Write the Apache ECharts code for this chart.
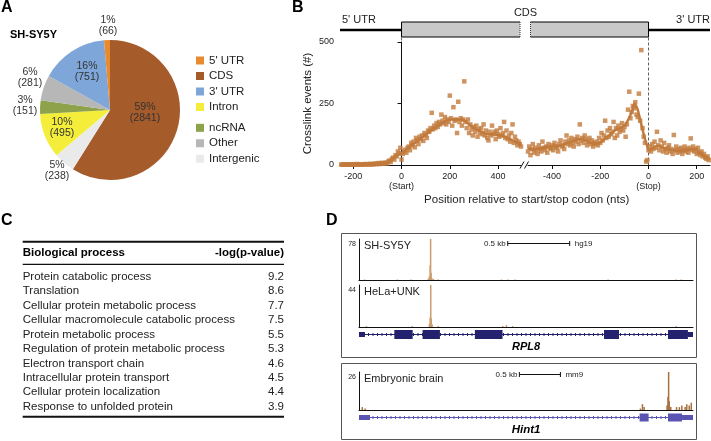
<!DOCTYPE html>
<html>
<head>
<meta charset="utf-8">
<script src="https://cdn.jsdelivr.net/npm/echarts@6.0.0/dist/echarts.min.js"></script>
<style>
html,body{margin:0;padding:0;background:#ffffff;}
#chart{width:711px;height:441px;}
</style>
</head>
<body>
<div id="chart"></div>
<script>
// ================= Panel A : binding-site categories =================
const pieCategories = ["CDS", "Intergenic", "Intron", "ncRNA", "Other", "3' UTR", "5' UTR"];
const pieCounts = [2841, 238, 495, 151, 281, 751, 66];
const piePercents = [59, 5, 10, 3, 6, 16, 1];
const legendGroupOne = ["5' UTR", "CDS", "3' UTR", "Intron"];
const legendGroupTwo = ["ncRNA", "Other", "Intergenic"];

// ================= Panel B : crosslink events =================
const startFirstBin = -250;   // nt, start-codon aligned (5-nt bins)
const stopFirstBin = -500;    // nt, stop-codon aligned (5-nt bins)
const binStep = 5;
const startAlignedCounts = [
  2,1,3,2,1,2,3,1,2,2,
  3,1,2,4,2,3,1,2,3,2,
  4,3,2,3,5,2,3,4,6,3,
  5,8,4,6,9,5,7,10,6,14,
  18,12,25,30,22,40,35,55,48,70,
  22,45,55,62,50,70,75,60,90,80,
  95,72,110,100,85,115,105,120,98,130,
  122,110,140,135,150,212,145,160,150,170,
  155,175,165,205,180,170,195,165,185,175,
  282,190,160,235,180,185,130,257,175,190,
  160,185,340,175,150,185,130,165,145,120,
  155,135,160,115,145,130,150,125,165,120,
  140,110,100,135,120,160,125,135,105,140,
  125,115,150,120,130,175,110,140,105,120,
  95,130,165,90,115,100,80,95,85,75
];
const stopAlignedCounts = [
  55,75,40,65,85,50,70,60,45,80,
  65,55,95,70,60,75,50,85,70,65,
  80,60,90,75,70,55,85,100,75,80,
  65,95,120,85,100,80,110,90,75,105,
  95,115,85,165,100,110,90,120,105,80,
  95,110,85,100,75,90,85,95,80,110,
  90,130,100,120,180,110,140,115,150,125,
  135,175,110,150,120,160,135,145,170,140,
  155,115,165,225,298,190,215,240,230,255,
  205,195,290,180,467,150,115,90,14,20,
  60,75,55,85,65,95,70,135,80,60,
  100,75,55,90,65,50,70,80,55,65,
  45,122,60,75,50,65,55,70,45,60,
  75,55,65,50,70,108,60,75,55,65,
  45,70,50,40,55,35,45,30,25,35,
  20
];
const startTrendPos = [-250,-200,-150,-100,-80,-60,-40,-20,0,20,40,60,80,100,120,140,160,180,200,220,240,260,280,300,320,340,360,380,400,420,440,460,480,495];
const startTrendVal = [2,2,3,4,5,8,22,38,48,62,78,92,108,122,138,152,165,178,185,186,185,180,165,150,140,132,125,125,122,118,110,100,90,82];
const stopTrendPos = [-500,-480,-460,-440,-420,-400,-380,-360,-340,-320,-300,-280,-260,-240,-220,-200,-180,-160,-140,-120,-100,-85,-70,-58,-45,-30,-15,-8,0,10,20,40,60,80,100,120,140,160,180,200,220,240,255];
const stopTrendVal = [68,62,66,70,74,75,78,80,88,95,102,106,100,90,86,92,108,122,140,150,160,183,215,250,225,165,105,85,62,65,72,78,70,64,60,58,58,60,65,60,45,32,25];
const startTicks = [-200, 0, 200, 400];
const stopTicks = [-400, -200, 0, 200];

// ================= Panel C : GO terms =================
const goProcesses = [
  "Protein catabolic process", "Translation", "Cellular protein metabolic process",
  "Cellular macromolecule catabolic process", "Protein metabolic process",
  "Regulation of protein metabolic process", "Electron transport chain",
  "Intracellular protein transport", "Cellular protein localization",
  "Response to unfolded protein"
];
const goLogP = ["9.2", "8.6", "7.7", "7.5", "5.5", "5.3", "4.6", "4.5", "4.4", "3.9"];

// ================= Panel D : genome browser tracks (bp) =================
const rpl8Span = [0, 2695];
const rpl8Exons = [[0,48,1],[285,433,2],[513,653,2],[935,1158,2],[1977,2098,2],[2493,2654,2],[2654,2695,1]];
const hint1Span = [0, 4071];
const hint1Exons = [[0,134,1],[3420,3530,2],[3766,3937,2],[3937,4071,1]];
const shsy5yCoverage = [[45,1],[310,1],[420,1],[560,3],[568,7],[574,28],[578,78],[582,14],[588,4],[600,2],[640,1],[1150,1],[1200,1],[1260,1],[2010,1],[2560,1],[2600,1]];
const helaCoverage = [[60,1],[430,1],[568,3],[574,10],[579,44],[583,9],[590,3],[640,1],[1160,1],[1190,2],[1240,1],[2560,1]];
const brainCoverage = [[40,2],[75,1],[3430,1],[3455,4],[3475,2],[3755,3],[3766,9],[3774,26],[3781,6],[3800,2],[3870,2],[3905,2],[3935,3],[3975,2],[3995,4],[4025,3],[4050,5]];
const trackMaxima = [78, 44, 26];
const trackNames = ["SH-SY5Y", "HeLa+UNK", "Embryonic brain"];
const scaleBarStart = [1200, 1955];
const scaleBarLength = 500;

// =====================================================================
const FONT = '"Liberation Sans", Arial, Helvetica, sans-serif';
const pieColors = ['#A65B2B', '#EAEAEA', '#F4EE3A', '#8DA24B', '#B7B7B7', '#7EA6D8', '#E98A2E'];
const pieLabelPos = [[145,113],[57,171],[62,128],[25,106],[30,78],[87,72],[108,26]];
const crossColor = '#C27A3C';

const chart = echarts.init(document.getElementById('chart'), null, {renderer: 'canvas', width: 711, height: 441});

const startPoints = startAlignedCounts.map((v, i) => [startFirstBin + binStep * i, v]);
const stopPoints = stopAlignedCounts.map((v, i) => [stopFirstBin + binStep * i, v]);
const startTrend = startTrendPos.map((p, i) => [p, startTrendVal[i]]);
const stopTrend = stopTrendPos.map((p, i) => [p, stopTrendVal[i]]);

function tickFmt(word) {
  return function (v) { return v === 0 ? '{a|0}\n{b|' + word + '}' : '{a|' + v + '}'; };
}
const tickRich = {a: {fontSize: 9, lineHeight: 11, color: '#222', fontFamily: FONT}, b: {fontSize: 9, lineHeight: 10, color: '#222', fontFamily: FONT}};

function bX(grid, min, max, ticks, word) {
  return {
    gridIndex: grid, type: 'value', min: min, max: max,
    axisLine: {show: true, onZero: false, lineStyle: {color: '#111', width: 1}},
    axisTick: {show: true, length: 4, customValues: ticks, lineStyle: {color: '#111'}},
    axisLabel: {show: true, customValues: ticks, margin: 6, formatter: tickFmt(word), rich: tickRich},
    splitLine: {show: false}
  };
}
function hiddenAxis(grid, min, max) {
  return {gridIndex: grid, type: 'value', min: min, max: max, show: false, splitLine: {show: false}};
}
function trackX(grid, max) {
  return {gridIndex: grid, type: 'value', min: 0, max: max,
    axisLine: {show: true, onZero: false, lineStyle: {color: '#111', width: 1}},
    axisTick: {show: false}, axisLabel: {show: false}, splitLine: {show: false}};
}
function trackY(grid, max) {
  return {gridIndex: grid, type: 'value', min: 0, max: max,
    axisLine: {show: true, onZero: false, lineStyle: {color: '#111', width: 1}},
    axisTick: {show: false}, axisLabel: {show: false}, splitLine: {show: false}};
}
function geneRenderer(color, exonH, utrH) {
  return function (params, api) {
    const a = api.coord([api.value(0), 0.5]);
    const b = api.coord([api.value(1), 0.5]);
    const kind = api.value(2);
    if (kind === 0) {
      return {type: 'group', children: [
        {type: 'line', shape: {x1: a[0], y1: a[1], x2: b[0], y2: b[1]}, style: {stroke: color, lineWidth: 1}},
        {type: 'line', shape: {x1: a[0], y1: a[1], x2: b[0], y2: b[1]}, style: {stroke: color, lineWidth: 3, lineDash: [1, 3.5]}}
      ]};
    }
    const h = kind === 2 ? exonH : utrH;
    return {type: 'rect', shape: {x: a[0], y: a[1] - h / 2, width: b[0] - a[0], height: h}, style: {fill: color}};
  };
}
const legendBase = {
  orient: 'vertical', left: 196, padding: 0, itemWidth: 8, itemHeight: 8, itemGap: 3.5,
  icon: 'rect', selectedMode: false,
  textStyle: {fontSize: 11.5, lineHeight: 11, color: '#222', fontFamily: FONT}
};

const option = {
  animation: false,
  textStyle: {fontFamily: FONT},
  legend: [
    Object.assign({}, legendBase, {data: legendGroupOne, top: 54.5}),
    Object.assign({}, legendBase, {data: legendGroupTwo, top: 121.8})
  ],
  grid: [
    {left: 340, top: 42, width: 181, height: 123},
    {left: 528, top: 42, width: 182, height: 123},
    {left: 359, top: 239, width: 334, height: 41},
    {left: 359, top: 285, width: 334, height: 42},
    {left: 359, top: 329, width: 334, height: 11},
    {left: 359, top: 372, width: 334, height: 38},
    {left: 359, top: 412, width: 334, height: 11}
  ],
  xAxis: [
    bX(0, -255, 495, startTicks, '(Start)'),
    bX(1, -500, 255, stopTicks, '(Stop)'),
    trackX(2, rpl8Span[1]),
    trackX(3, rpl8Span[1]),
    hiddenAxis(4, 0, rpl8Span[1]),
    trackX(5, hint1Span[1]),
    hiddenAxis(6, 0, hint1Span[1])
  ],
  yAxis: [
    {gridIndex: 0, type: 'value', min: 0, max: 500, interval: 250,
      axisLine: {show: true, lineStyle: {color: '#111', width: 1}},
      axisTick: {show: true, length: 4, lineStyle: {color: '#111'}},
      axisLabel: {fontSize: 9, margin: 6, color: '#222', fontFamily: FONT},
      splitLine: {show: false},
      name: 'Crosslink events (#)', nameLocation: 'middle', nameGap: 26,
      nameTextStyle: {fontSize: 11.5, color: '#222', fontFamily: FONT}},
    hiddenAxis(1, 0, 500),
    trackY(2, trackMaxima[0]),
    trackY(3, trackMaxima[1]),
    hiddenAxis(4, 0, 1),
    trackY(5, trackMaxima[2]),
    hiddenAxis(6, 0, 1)
  ],
  series: [
    {
      type: 'pie', center: [110, 110], radius: 70, startAngle: 90, clockwise: true,
      silent: true, emphasis: {disabled: true}, minShowLabelAngle: 0,
      data: pieCategories.map((n, i) => ({name: n, value: pieCounts[i], itemStyle: {color: pieColors[i]}})),
      label: {show: true, position: 'inside', overflow: 'none', color: '#333', fontSize: 10.5, lineHeight: 11, fontFamily: FONT,
        formatter: p => piePercents[p.dataIndex] + '%\n(' + pieCounts[p.dataIndex] + ')'},
      labelLine: {show: false},
      labelLayout: p => ({x: pieLabelPos[p.dataIndex][0], y: pieLabelPos[p.dataIndex][1], align: 'center', verticalAlign: 'middle'})
    },
    {type: 'scatter', xAxisIndex: 0, yAxisIndex: 0, data: startPoints, symbol: 'rect', symbolSize: 4.5, itemStyle: {color: crossColor}, silent: true},
    {type: 'line', xAxisIndex: 0, yAxisIndex: 0, data: startTrend, smooth: 0.25, showSymbol: false, lineStyle: {color: crossColor, width: 2.5}, silent: true},
    {type: 'scatter', xAxisIndex: 1, yAxisIndex: 1, data: stopPoints, symbol: 'rect', symbolSize: 4.5, itemStyle: {color: crossColor}, silent: true},
    {type: 'line', xAxisIndex: 1, yAxisIndex: 1, data: stopTrend, smooth: 0.2, showSymbol: false, lineStyle: {color: crossColor, width: 2.5}, silent: true},
    {type: 'bar', xAxisIndex: 2, yAxisIndex: 2, data: shsy5yCoverage, barWidth: 1.5, itemStyle: {color: '#CF9C6C'}, silent: true},
    {type: 'bar', xAxisIndex: 3, yAxisIndex: 3, data: helaCoverage, barWidth: 1.5, itemStyle: {color: '#CF9C6C'}, silent: true},
    {type: 'custom', xAxisIndex: 4, yAxisIndex: 4, encode: {x: [0, 1]}, silent: true,
      data: [[rpl8Span[0], rpl8Span[1], 0]].concat(rpl8Exons), renderItem: geneRenderer('#24216E', 9, 5)},
    {type: 'bar', xAxisIndex: 5, yAxisIndex: 5, data: brainCoverage, barWidth: 1.5, itemStyle: {color: '#A8703F'}, silent: true},
    {type: 'custom', xAxisIndex: 6, yAxisIndex: 6, encode: {x: [0, 1]}, silent: true,
      data: [[hint1Span[0], hint1Span[1], 0]].concat(hint1Exons), renderItem: geneRenderer('#5A55B3', 8, 5)}
  ]
};
chart.setOption(option);

// ---------- annotations (texts, rules, frames) ----------
const P = (g, v) => chart.convertToPixel({gridIndex: g}, v);
function txt(text, x, y, font, align, extra) {
  return {type: 'text', x: x, y: y, silent: true,
    style: Object.assign({text: text, font: font, fill: '#222', align: align || 'left', verticalAlign: 'middle',
      textAlign: align || 'left', textVerticalAlign: 'middle'}, extra || {})};
}
function ln(x1, y1, x2, y2, w, extra) {
  return {type: 'line', silent: true, shape: {x1: x1, y1: y1, x2: x2, y2: y2},
    style: Object.assign({stroke: '#111', lineWidth: w}, extra || {})};
}
const G = [];
const bold16 = 'bold 16px ' + FONT;
G.push(txt('A', 1, 8, bold16, 'left', {fill: '#000'}));
G.push(txt('B', 292, 8, bold16, 'left', {fill: '#000'}));
G.push(txt('C', 1, 221, bold16, 'left', {fill: '#000'}));
G.push(txt('D', 326, 221, bold16, 'left', {fill: '#000'}));
G.push(txt('SH-SY5Y', 10, 35, 'bold 11px ' + FONT, 'left', {fill: '#000'}));

// Panel B schematic
const xS = P(0, [-255, 0])[0], xE = P(1, [255, 0])[0];
const x0L = P(0, [0, 0])[0], x0R = P(1, [0, 0])[0];
const xBrL = P(0, [495, 0])[0], xBrR = P(1, [-500, 0])[0];
const yAx = P(0, [0, 0])[1];
G.push(ln(xS, 30, xE, 30, 2.5, {stroke: '#000'}));
G.push({type: 'rect', silent: true, shape: {x: x0L, y: 22, width: x0R - x0L, height: 15}, style: {fill: '#C9C9C9', stroke: '#000', lineWidth: 1}});
G.push({type: 'rect', silent: true, shape: {x: xBrL - 1, y: 20, width: xBrR - xBrL + 3.5, height: 19}, style: {fill: '#fff'}});
G.push(ln(xBrL - 1, 22, xBrL - 1, 37, 1, {stroke: '#333', lineDash: [1, 1]}));
G.push(ln(xBrR + 2.5, 22, xBrR + 2.5, 37, 1, {stroke: '#333', lineDash: [1, 1]}));
G.push(txt("5' UTR", 342, 20, '11px ' + FONT));
G.push(txt("3' UTR", 710, 20, '11px ' + FONT, 'right'));
G.push(txt('CDS', (xBrL + xBrR) / 2 + 1, 12.5, '11px ' + FONT, 'center'));
G.push(ln(x0L, 37.5, x0L, yAx, 0.8, {stroke: '#333', lineDash: [3, 2]}));
G.push(ln(x0R, 37.5, x0R, yAx, 0.8, {stroke: '#333', lineDash: [3, 2]}));
G.push(ln(xBrL - 1, yAx + 3.5, xBrL + 3, yAx - 3.5, 1));
G.push(ln(xBrL + 3.5, yAx + 3.5, xBrL + 7.5, yAx - 3.5, 1));
G.push(txt('Position relative to start/stop codon (nts)', 526.7, 200, '11.5px ' + FONT, 'center'));

// Panel C table
const tL = 22.7, tR = 284;
G.push(ln(tL, 241.7, tR, 241.7, 2));
G.push(ln(tL, 264.3, tR, 264.3, 1.2));
G.push(ln(tL, 416.7, tR, 416.7, 2));
G.push(txt('Biological process', tL, 253.3, 'bold 11.5px ' + FONT, 'left', {fill: '#000'}));
G.push(txt('-log(p-value)', tR, 253.3, 'bold 11.5px ' + FONT, 'right', {fill: '#000'}));
goProcesses.forEach((name, i) => {
  const y = 276.7 + 14.45 * i;
  G.push(txt(name, tL, y, '11.5px ' + FONT));
  G.push(txt(goLogP[i], tR, y, '11.5px ' + FONT, 'right'));
});

// Panel D frames and labels
G.push({type: 'rect', silent: true, shape: {x: 341.5, y: 233.5, width: 355, height: 124}, style: {fill: 'none', stroke: '#555', lineWidth: 1}});
G.push({type: 'rect', silent: true, shape: {x: 341.5, y: 363.5, width: 355, height: 76}, style: {fill: 'none', stroke: '#555', lineWidth: 1}});
const trackGrids = [2, 3, 5];
trackGrids.forEach((g, i) => {
  const top = P(g, [0, trackMaxima[i]]);
  G.push(txt(String(trackMaxima[i]), top[0] - 3, top[1] + 5, '7px ' + FONT, 'right'));
  G.push(txt(trackNames[i], top[0] + 5, top[1] + 6.5, '11px ' + FONT));
});
function scaleBar(g, startBp, y, build) {
  const a = P(g, [startBp, 0])[0], b = P(g, [startBp + scaleBarLength, 0])[0];
  G.push(ln(a, y, b, y, 1));
  G.push(ln(a, y - 2.5, a, y + 2.5, 1));
  G.push(ln(b, y - 2.5, b, y + 2.5, 1));
  G.push(txt('0.5 kb', a - 2, y, '8px ' + FONT, 'right'));
  G.push(txt(build, b + 5, y, '8px ' + FONT));
}
scaleBar(2, scaleBarStart[0], 243.5, 'hg19');
scaleBar(5, scaleBarStart[1], 374.5, 'mm9');
const rp = P(4, [(rpl8Span[0] + rpl8Span[1]) / 2, 0.5]);
G.push(txt('RPL8', rp[0], 347, 'italic bold 11px ' + FONT, 'center', {fill: '#000'}));
const hp = P(6, [(hint1Span[0] + hint1Span[1]) / 2, 0.5]);
G.push(txt('Hint1', hp[0], 430, 'italic bold 11.5px ' + FONT, 'center', {fill: '#000'}));

chart.setOption({graphic: {elements: G}});
</script>
</body>
</html>
